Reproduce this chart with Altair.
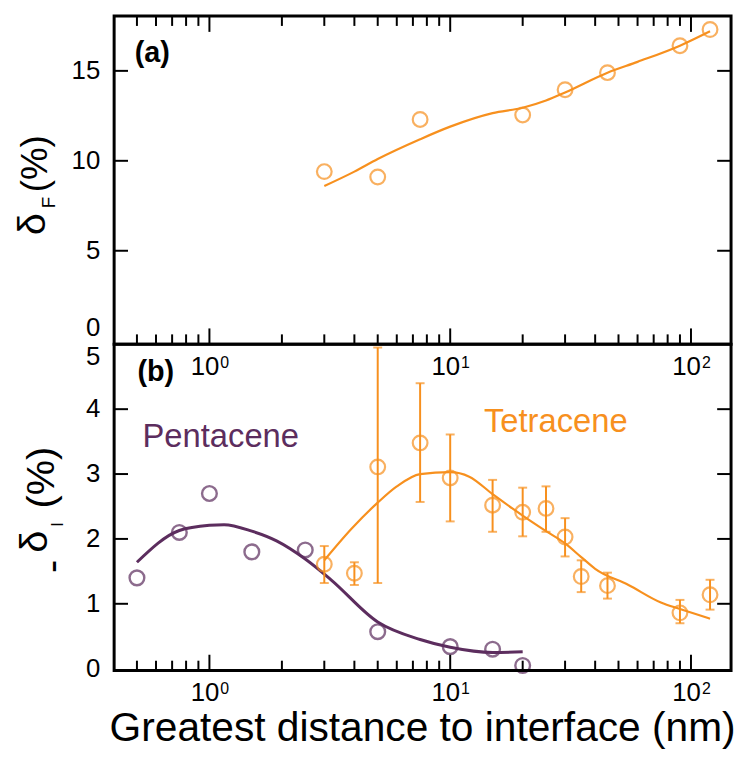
import altair as alt
import pandas as pd

# ---------------- data ----------------
# (a) delta_F, tetracene
fret_x = [3, 5, 7.5, 20, 30, 45, 90, 120]
fret_y = [9.4, 9.1, 12.3, 12.55, 13.95, 14.9, 16.4, 17.3]
fret_fit_x = [3, 4, 5, 7.5, 10, 15, 20, 25, 30, 45, 60, 90, 120]
fret_fit_y = [8.6, 9.4, 10.1, 11.2, 11.9, 12.65, 12.95, 13.35, 13.8, 14.9, 15.5, 16.4, 17.2]

# (b) -delta_I, pentacene
pent_x = [0.5, 0.75, 1.0, 1.5, 2.5, 5, 10, 15, 20]
pent_y = [1.4, 2.1, 2.7, 1.8, 1.83, 0.57, 0.34, 0.3, 0.05]
pent_fit_x = [0.5, 0.75, 1.0, 1.15, 1.5, 1.9, 2.5, 3.2, 5, 7.5, 10, 15, 20]
pent_fit_y = [1.64, 2.13, 2.21, 2.22, 2.12, 1.97, 1.69, 1.37, 0.72, 0.45, 0.33, 0.25, 0.26]

# (b) -delta_I, tetracene (with error bars)
tet_x = [3, 4, 5, 7.5, 10, 15, 20, 25, 30, 35, 45, 90, 120]
tet_y = [1.61, 1.47, 3.11, 3.48, 2.94, 2.52, 2.41, 2.47, 2.03, 1.42, 1.28, 0.86, 1.14]
tet_lo = [1.32, 1.29, 1.32, 2.57, 2.27, 2.11, 2.04, 2.11, 1.73, 1.18, 1.08, 0.70, 0.91]
tet_hi = [1.89, 1.64, 4.95, 4.40, 3.61, 2.91, 2.79, 2.81, 2.32, 1.67, 1.48, 1.06, 1.37]
tet_fit_x = [3, 3.9, 5, 6, 7.5, 10, 12, 15, 20, 25, 30, 35, 40, 55, 75, 90, 103, 120]
tet_fit_y = [1.67, 2.16, 2.56, 2.81, 3.0, 3.03, 2.96, 2.69, 2.36, 2.12, 1.93, 1.72, 1.54, 1.29, 1.02, 0.92, 0.85, 0.77]

# ticks / tick labels
x_major = [1, 10, 100]
x_minor = [0.5, 0.6, 0.7, 0.8, 0.9, 2, 3, 4, 5, 6, 7, 8, 9, 20, 30, 40, 50, 60, 70, 80, 90]
x_label_base = ["10", "10", "10"]
x_label_exp = ["0", "1", "2"]
y1_ticks = [5, 10, 15]
y1_labels = [0, 5, 10, 15]
y2_ticks = [1, 2, 3, 4]
y2_labels = [0, 1, 2, 3, 4, 5]
x_title = "Greatest distance to interface (nm)"

# ---------------- styling ----------------
W, H1, H2 = 622, 331, 329
ORANGE = "#F7901E"
PURPLE = "#5C2D5E"
FONT = "Liberation Sans"
VBAR = "M0,-1L0,1"  # vertical segment symbol used for inward x ticks

xscale = alt.Scale(type="log", domain=[0.402, 146.7], nice=False)
y1scale = alt.Scale(domain=[-0.2, 18.05], nice=False, zero=False)
y2scale = alt.Scale(domain=[-0.03, 5.0], nice=False, zero=False)

dummy = pd.DataFrame({"_": [0]})


def X():
    return alt.X("x:Q", scale=xscale, axis=None)


def txt(text, x, y, size, color="black", angle=0, weight="normal", align="center", baseline="middle"):
    return alt.Chart(dummy).mark_text(
        text=text, font=FONT, fontSize=size, color=color, angle=angle,
        fontWeight=weight, align=align, baseline=baseline,
    ).encode(x=alt.value(x), y=alt.value(y))


def frame(H):
    return alt.Chart(dummy).mark_rect(
        fillOpacity=0, stroke="black", strokeWidth=3
    ).encode(x=alt.value(0), x2=alt.value(W), y=alt.value(0), y2=alt.value(H))


def x_tick_layers(H, top, bottom):
    layers = []
    for vals, length in [(x_major, 16), (x_minor, 10)]:
        d = pd.DataFrame({"x": vals, "kind": ["tick"] * len(vals)})
        centers = []
        if top:
            centers.append(length / 2)
        if bottom:
            centers.append(H - length / 2)
        for c in centers:
            layers.append(
                alt.Chart(d).mark_point(shape=VBAR, size=length * length, filled=False,
                                        strokeWidth=2, color="black", opacity=1)
                .encode(x=X(), y=alt.value(c))
            )
    return layers


def y_tick_layers(vals, yscale):
    d = pd.DataFrame({"y": vals})
    Y = alt.Y("y:Q", scale=yscale, axis=None)
    return [
        alt.Chart(d).mark_rule(color="black", strokeWidth=2)
        .encode(y=Y, x=alt.value(0), x2=alt.value(14)),
        alt.Chart(d).mark_rule(color="black", strokeWidth=2)
        .encode(y=Y, x=alt.value(W - 14), x2=alt.value(W)),
    ]


def y_labels(vals, yscale, flush_value, flush_baseline):
    d = pd.DataFrame({"y": vals})
    Y = alt.Y("y:Q", scale=yscale, axis=None)
    common = dict(font=FONT, fontSize=26, color="black", align="right")
    mid = (alt.Chart(d).transform_filter(f"datum.y != {flush_value}")
           .mark_text(baseline="middle", **common)
           .encode(y=Y, x=alt.value(-14), text="y:Q"))
    edge = (alt.Chart(d).transform_filter(f"datum.y == {flush_value}")
            .mark_text(baseline=flush_baseline, **common)
            .encode(y=Y, x=alt.value(-14), text="y:Q"))
    return [mid, edge]


def x_labels(H):
    d = pd.DataFrame({"x": x_major, "base": x_label_base, "exp": x_label_exp})
    base = alt.Chart(d).mark_text(font=FONT, fontSize=26, align="right", baseline="alphabetic",
                                  dx=10, color="black").encode(x=X(), y=alt.value(H + 31), text="base:N")
    exp = alt.Chart(d).mark_text(font=FONT, fontSize=16, align="left", baseline="alphabetic",
                                 dx=11, color="black").encode(x=X(), y=alt.value(H + 24), text="exp:N")
    return [base, exp]


# ---------------- panel (a) ----------------
fret_pts = pd.DataFrame({"x": fret_x, "y": fret_y})
fret_fit = pd.DataFrame({"x": fret_fit_x, "y": fret_fit_y})

a_layers = []
a_layers += y_tick_layers(y1_ticks, y1scale)
a_layers += y_labels(y1_labels, y1scale, 0, "bottom")
a_layers.append(
    alt.Chart(fret_fit).mark_line(color=ORANGE, strokeWidth=2.2, interpolate="monotone")
    .encode(x=X(), y=alt.Y("y:Q", scale=y1scale, axis=None))
)
a_layers.append(
    alt.Chart(fret_pts).mark_point(shape="circle", filled=False, size=220, strokeWidth=2.2, color=ORANGE)
    .encode(x=X(), y=alt.Y("y:Q", scale=y1scale, axis=None))
)
a_layers += x_tick_layers(H1, top=True, bottom=True)
a_layers += x_labels(H1)
a_layers.append(frame(H1))
a_layers.append(txt("(a)", 38.5, 37.5, 29, weight="bold"))
ca = H1 / 2
a_layers.append(txt("δ", -70, ca + 44.5, 40, angle=270, baseline="alphabetic"))
a_layers.append(txt("F", -60, ca + 22.5, 19, angle=270, baseline="alphabetic"))
a_layers.append(txt("(%)", -68, ca - 16.5, 37, angle=270, baseline="alphabetic"))

panel_a = alt.layer(*a_layers).properties(width=W, height=H1)

# ---------------- panel (b) ----------------
pent_pts = pd.DataFrame({"x": pent_x, "y": pent_y})
pent_fit = pd.DataFrame({"x": pent_fit_x, "y": pent_fit_y})
tet_pts = pd.DataFrame({"x": tet_x, "y": tet_y, "lo": tet_lo, "hi": tet_hi})
tet_fit = pd.DataFrame({"x": tet_fit_x, "y": tet_fit_y})

b_layers = []
b_layers += y_tick_layers(y2_ticks, y2scale)
b_layers += y_labels(y2_labels, y2scale, 5, "top")
b_layers.append(
    alt.Chart(pent_fit).mark_line(color=PURPLE, strokeWidth=3, interpolate="monotone")
    .encode(x=X(), y=alt.Y("y:Q", scale=y2scale, axis=None))
)
b_layers.append(
    alt.Chart(tet_fit).mark_line(color=ORANGE, strokeWidth=2.2, interpolate="monotone")
    .encode(x=X(), y=alt.Y("y:Q", scale=y2scale, axis=None))
)
b_layers.append(
    alt.Chart(tet_pts).mark_rule(color=ORANGE, strokeWidth=2)
    .encode(x=X(), y=alt.Y("lo:Q", scale=y2scale, axis=None), y2="hi:Q")
)
b_layers.append(
    alt.Chart(tet_pts).mark_tick(color=ORANGE, orient="horizontal", size=9, thickness=2)
    .encode(x=X(), y=alt.Y("lo:Q", scale=y2scale, axis=None))
)
b_layers.append(
    alt.Chart(tet_pts).mark_tick(color=ORANGE, orient="horizontal", size=9, thickness=2)
    .encode(x=X(), y=alt.Y("hi:Q", scale=y2scale, axis=None))
)
b_layers.append(
    alt.Chart(pent_pts).mark_point(shape="circle", filled=False, size=220, strokeWidth=2.4, color=PURPLE)
    .encode(x=X(), y=alt.Y("y:Q", scale=y2scale, axis=None))
)
b_layers.append(
    alt.Chart(tet_pts).mark_point(shape="circle", filled=False, size=220, strokeWidth=2.2, color=ORANGE)
    .encode(x=X(), y=alt.Y("y:Q", scale=y2scale, axis=None))
)
b_layers += x_tick_layers(H2, top=False, bottom=True)
b_layers += x_labels(H2)
b_layers.append(frame(H2))
b_layers.append(txt(x_title, W / 2, H2 + 39, 41, baseline="top"))
b_layers.append(txt("(b)", 42, 28.5, 29, weight="bold"))
b_layers.append(txt("Pentacene", 107.5, 103.7, 33, color=PURPLE, baseline="alphabetic"))
b_layers.append(txt("Tetracene", 445.3, 88.7, 33, color=ORANGE, baseline="alphabetic"))
cb = H2 / 2
b_layers.append(txt("-", -62, cb + 59.5, 40, angle=270, baseline="middle"))
b_layers.append(txt("δ", -68, cb + 34.5, 40, angle=270, baseline="alphabetic"))
b_layers.append(txt("I", -52, cb + 17, 17, angle=270, baseline="alphabetic"))
b_layers.append(txt("(%)", -61, cb - 30, 40, angle=270, baseline="alphabetic"))

panel_b = alt.layer(*b_layers).properties(width=W, height=H2)

chart = (
    alt.vconcat(panel_a, panel_b, spacing=0, bounds="flush")
    .properties(padding={"left": 4, "top": 0, "right": 0, "bottom": 0}, background="white")
)

chart.save("out.html", embed_options={"renderer": "svg", "actions": False})
